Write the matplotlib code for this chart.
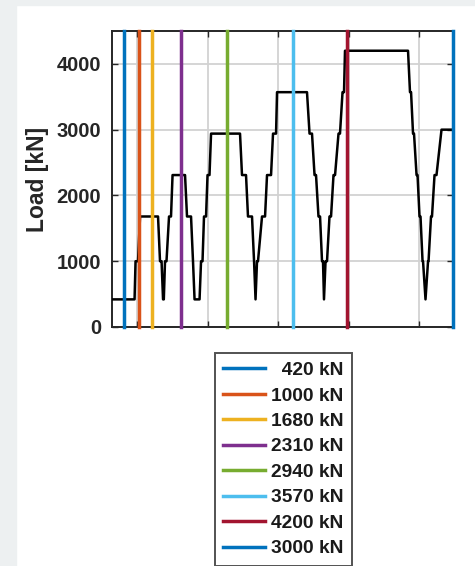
import matplotlib
matplotlib.use("Agg")
import matplotlib.pyplot as plt
from matplotlib.patches import Rectangle

plt.rcParams['font.family'] = ['Liberation Sans', 'DejaVu Sans']
plt.rcParams['font.weight'] = 'bold'

# load history: time vs applied load
time_h = [6.45, 9.65, 9.79, 10.14, 10.43, 12.98, 13.26, 13.48, 13.69, 13.80,
          13.97, 14.18, 14.54, 14.82, 15.04, 16.81, 17.09, 17.66, 17.94, 18.16,
          18.87, 19.08, 19.29, 19.50, 19.79, 20.00, 20.28, 20.50, 24.61, 24.89,
          25.46, 25.74, 26.31, 26.60, 26.81, 27.02, 27.16, 27.73, 28.16, 28.44,
          29.01, 29.29, 29.72, 29.86, 34.11, 34.47, 34.82, 35.18, 35.39, 35.74,
          35.96, 36.24, 36.38, 36.52, 36.74, 36.95, 37.30, 37.52, 37.87, 38.09,
          38.58, 38.79, 39.15, 39.36, 39.50, 48.44, 48.72, 48.87, 49.15, 49.29,
          49.65, 49.79, 50.07, 50.21, 50.50, 50.57, 50.92, 51.28, 51.35, 51.70,
          51.84, 52.20, 52.48, 53.19, 54.82]
load_kn = [420, 420, 1000, 1000, 1680, 1680, 1000, 1000, 420, 420,
           1000, 1000, 1680, 1680, 2310, 2310, 1680, 1680, 1000, 420,
           420, 1000, 1000, 1680, 1680, 2310, 2310, 2940, 2940, 2310,
           2310, 1680, 1680, 1000, 420, 1000, 1000, 1680, 1680, 2310,
           2310, 2940, 2940, 3570, 3570, 2940, 2940, 2310, 2310, 1680,
           1680, 1000, 1000, 420, 1000, 1000, 1680, 1680, 2310, 2310,
           2940, 2940, 3570, 3570, 4200, 4200, 3570, 3570, 2940, 2940,
           2310, 2310, 1680, 1680, 1000, 1000, 420, 1000, 1000, 1680,
           1680, 2310, 2310, 3000, 3000]

# selected instants for each load level
marker_time = [8.16, 10.28, 12.13, 16.24, 22.77, 32.13, 39.79, 54.80]
marker_labels = ['  420 kN', '1000 kN', '1680 kN', '2310 kN',
                 '2940 kN', '3570 kN', '4200 kN', '3000 kN']
marker_colors = ['#0072BD', '#D95319', '#EDB120', '#7E2F8E',
                 '#77AC30', '#4DBEEE', '#A2142F', '#0072BD']

fig = plt.figure(figsize=(4.75, 5.66), dpi=100)
fig.patch.set_facecolor('white')
fig.patches.append(Rectangle((0, 0), 16 / 475, 1, transform=fig.transFigure,
                             color='#edf0f1', zorder=0))
fig.patches.append(Rectangle((0, 1 - 5 / 566), 1, 5 / 566, transform=fig.transFigure,
                             color='#edf0f1', zorder=0))

ax = fig.add_axes([112 / 475, 1 - 327 / 566, 341 / 475, 296 / 566])

ax.plot(time_h, load_kn, color='black', lw=1.8, zorder=3)
for t, lab, c in zip(marker_time, marker_labels, marker_colors):
    ax.axvline(t, color=c, lw=2.5, label=lab, zorder=4, clip_on=False)

ax.set_xlim(6.45, 54.82)
ax.set_ylim(0, 4500)
ax.set_xticks([10, 20, 30, 40, 50])
ax.set_xticklabels([])
ax.set_yticks([0, 1000, 2000, 3000, 4000])
ax.tick_params(direction='in', length=4, width=1, top=True, right=True,
               labelsize=14.5, pad=8, colors='#262626')
ax.grid(True, color='#d2d2d2', lw=1.3, zorder=0)
for s in ax.spines.values():
    s.set_color('#262626')
    s.set_linewidth(1.4)
ax.set_ylabel('Load [kN]', fontsize=16.5, fontweight='bold', color='#262626', labelpad=5)

leg = fig.legend(loc='upper center', bbox_to_anchor=(283.5 / 475, 1 - 353 / 566),
                 borderaxespad=0, fontsize=13.8, frameon=True, fancybox=False,
                 edgecolor='#262626', handlelength=2.2, handletextpad=0.3,
                 labelspacing=0.42, borderpad=0.45)
leg.get_frame().set_linewidth(1.4)
for txt in leg.get_texts():
    txt.set_color('#1a1a1a')

fig.savefig('out.png', dpi=100)
